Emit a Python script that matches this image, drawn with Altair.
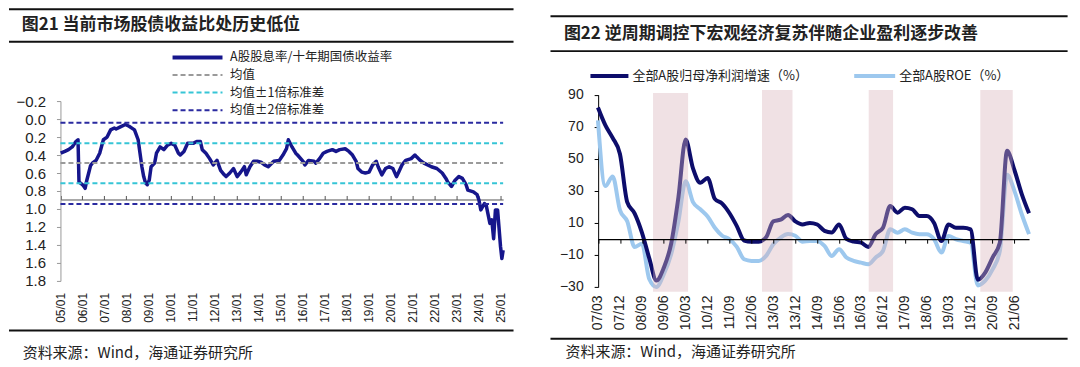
import altair as alt
import pandas as pd

CJK = "Noto Sans CJK SC"
NUM = "Liberation Sans"
TXT = "#222222"

# ---------------- Figure 21 data ----------------
fig21_title = "图21 当前市场股债收益比处历史低位"
fig21_series = "A股股息率/十年期国债收益率"
fig21_dates = [
    "2005-01-05", "2005-03-15", "2005-05-15", "2005-07-15", "2005-09-15", "2005-10-20", "2005-11-05", "2005-12-15",
    "2006-01-15", "2006-02-15", "2006-03-15", "2006-04-15", "2006-05-15", "2006-06-15", "2006-08-15", "2006-10-15", "2006-12-15",
    "2007-02-15", "2007-04-15", "2007-06-15", "2007-07-15", "2007-09-15", "2007-12-15",
    "2008-02-15", "2008-05-15", "2008-07-15", "2008-08-15", "2008-09-15", "2008-10-15", "2008-11-15", "2008-12-15",
    "2009-01-15", "2009-02-15", "2009-04-15", "2009-05-15", "2009-07-15", "2009-09-15", "2009-11-15",
    "2010-01-15", "2010-03-15", "2010-05-15", "2010-06-15", "2010-08-15", "2010-10-15",
    "2011-01-15", "2011-03-15", "2011-05-15", "2011-06-15", "2011-08-15", "2011-10-15", "2011-12-15",
    "2012-02-15", "2012-04-15", "2012-06-15", "2012-07-15", "2012-09-15", "2012-11-15",
    "2013-01-15", "2013-03-15", "2013-05-15", "2013-06-15", "2013-08-15", "2013-10-15", "2013-12-15",
    "2014-02-15", "2014-04-15", "2014-06-15", "2014-09-15", "2014-12-15",
    "2015-02-15", "2015-04-15", "2015-05-15", "2015-07-15", "2015-09-15", "2015-10-15",
    "2016-01-15", "2016-02-15", "2016-04-15", "2016-07-15", "2016-08-15", "2016-10-15", "2016-12-15",
    "2017-02-15", "2017-05-15", "2017-07-15", "2017-09-15", "2017-12-15",
    "2018-02-15", "2018-04-15", "2018-06-15", "2018-07-15", "2018-09-15", "2018-11-15",
    "2019-01-15", "2019-03-15", "2019-05-15", "2019-06-15", "2019-08-15", "2019-10-15", "2019-12-15",
    "2020-02-15", "2020-04-15", "2020-05-15", "2020-07-15", "2020-09-15", "2020-12-15",
    "2021-02-15", "2021-03-15", "2021-05-15", "2021-07-15", "2021-09-15", "2021-11-15",
    "2022-02-15", "2022-05-15", "2022-07-15", "2022-08-15", "2022-10-15", "2022-12-15",
    "2023-02-15", "2023-04-15", "2023-06-15", "2023-07-15", "2023-10-15", "2023-12-15",
    "2024-01-15", "2024-02-15", "2024-04-15", "2024-05-15", "2024-07-15", "2024-08-15", "2024-09-15", "2024-10-15", "2024-11-20",
    "2025-01-08", "2025-01-30", "2025-02-20",
]
fig21_ratio = [
    0.38, 0.36, 0.34, 0.31, 0.25, 0.23, 0.70, 0.72,
    0.74, 0.77, 0.68, 0.60, 0.52, 0.49, 0.46, 0.38, 0.23,
    0.20, 0.12, 0.10, 0.11, 0.09, 0.06,
    0.08, 0.12, 0.23, 0.38, 0.53, 0.64, 0.71, 0.73,
    0.68, 0.53, 0.49, 0.38, 0.31, 0.34, 0.29,
    0.27, 0.29, 0.38, 0.40, 0.36, 0.27,
    0.27, 0.25, 0.25, 0.34, 0.38, 0.44, 0.51,
    0.46, 0.57, 0.62, 0.64, 0.60, 0.55,
    0.64, 0.59, 0.53, 0.62, 0.53, 0.47, 0.47,
    0.48, 0.51, 0.53, 0.47, 0.46,
    0.40, 0.33, 0.23, 0.31, 0.38, 0.40,
    0.47, 0.51, 0.46, 0.47, 0.49, 0.44, 0.38,
    0.36, 0.34, 0.36, 0.34, 0.33,
    0.36, 0.40, 0.47, 0.55, 0.59, 0.60,
    0.59, 0.51, 0.47, 0.53, 0.62, 0.55, 0.53,
    0.55, 0.64, 0.60, 0.51, 0.46, 0.44,
    0.40, 0.42, 0.46, 0.49, 0.51, 0.53,
    0.55, 0.60, 0.66, 0.70, 0.75, 0.68,
    0.64, 0.66, 0.73, 0.79, 0.81, 0.84,
    0.90, 1.01, 0.94, 0.96, 1.16, 1.12, 1.33, 1.01, 1.01,
    1.42, 1.55, 1.46,
]
fig21_ref_kind = ["均值", "均值±1倍标准差", "均值±1倍标准差", "均值±2倍标准差", "均值±2倍标准差"]
fig21_ref_level = [0.49, 0.27, 0.715, 0.04, 0.945]
fig21_legend = [fig21_series, "均值", "均值±1倍标准差", "均值±2倍标准差"]
fig21_xticks = [f"{y}-01-01" for y in range(2005, 2026)]
fig21_yticks = [-0.2, 0.0, 0.2, 0.4, 0.6, 0.8, 1.0, 1.2, 1.4, 1.6, 1.8]
fig21_span = ["2005-01-01", "2025-02-20"]

# ---------------- Figure 22 data ----------------
fig22_title = "图22 逆周期调控下宏观经济复苏伴随企业盈利逐步改善"
fig22_names = ["全部A股归母净利润增速（%）", "全部A股ROE（%）"]
fig22_dates = [f"{y}-{m:02d}-15" for y in range(2007, 2022) for m in (3, 6, 9, 12)]
fig22_growth = [82, 71, 63, 53, 23, 16, 4, -12, -26, -18, -3, 26, 62, 44, 35, 38,
                25, 22, 16, 8, -1, -1.7, -1.7, 1, 11, 12, 15, 11, 9, 10, 9, 5,
                4, 9, 0, -1.7, -2.3, -5, 3, 7, 20.5, 16.4, 19.5, 18.5, 14.3, 14.3, 10, -1.3,
                9, 7, 7, 6, -25.5, -21, -11.6, -2.3, 55, 43, 28, 16]
fig22_roe = [74, 33, 39, 18, 11, -5, -3, -25, -30, -22, -9.5, 11, 36, 23, 18.5, 14,
             7, 2, -0.2, -5, -12.7, -13.7, -13.7, -10.6, -3.3, 0.8, 3, 2, -1.7, -1.3, -1.3, -4.4,
             -10.6, -6.4, -11.6, -13.7, -14.8, -15.8, -11.6, -7.5, 6, 3.9, 6, 3.9, 2.9, 2.9, -0.2, -8.5,
             1.8, -0.2, -1.3, -2.3, -29, -26, -19, -7.5, 40, 30, 15.4, 3]
fig22_band_start = ["2009-02-01", "2012-10-25", "2016-06-20", "2020-04-15"]
fig22_band_end = ["2010-04-15", "2013-11-10", "2017-04-20", "2021-05-25"]
fig22_band_low = [-33, -33, -33, -33]
fig22_band_high = [91, 93, 93, 93]
fig22_xticks = ["2007-03-15", "2007-12-15", "2008-09-15", "2009-06-15", "2010-03-15",
                "2010-12-15", "2011-09-15", "2012-06-15", "2013-03-15", "2013-12-15",
                "2014-09-15", "2015-06-15", "2016-03-15", "2016-12-15", "2017-09-15",
                "2018-06-15", "2019-03-15", "2019-12-15", "2020-09-15", "2021-06-15"]
fig22_yticks = [-30, -10, 10, 30, 50, 70, 90]
fig22_span = ["2007-03-15", "2021-12-15"]

source_text = "资料来源：Wind，海通证券研究所"

assert len(fig21_dates) == len(fig21_ratio)
assert len(fig22_dates) == len(fig22_growth) == len(fig22_roe)


def utc(s):
    y, m, d = map(int, s.split("-"))
    return alt.DateTime(year=y, month=m, date=d, utc=True)


one = pd.DataFrame({"k": [0]})


def txt(s, x, y, size, weight="normal", font=CJK, color=TXT):
    return alt.Chart(one).mark_text(
        text=s, align="left", baseline="middle", fontSize=size,
        fontWeight=weight, font=font, color=color
    ).encode(x=alt.value(x), y=alt.value(y))


def hline(x1, x2, y, color, width, dash=None):
    kw = dict(color=color, strokeWidth=width)
    if dash:
        kw["strokeDash"] = dash
    return alt.Chart(one).mark_rule(**kw).encode(
        x=alt.value(x1), x2=alt.value(x2), y=alt.value(y))


PW, PH1, PH2 = 532, 273, 279

# ---------------- left panel ----------------
NAVY21 = "#16168c"
CYAN21 = "#36c5d6"
GRAY21 = "#9a9a9a"
DASH2 = "#2a2aa0"

lx_scale = alt.Scale(type="utc", domain=[utc(fig21_span[0]), utc(fig21_span[1])], range=[51.5, 494.6])
ly_scale = alt.Scale(domain=[-0.2, 1.8], range=[93, 273], zero=False, nice=False)
ly_axis = alt.Axis(orient="left", offset=-51.5, values=fig21_yticks, format=".1f", tickSize=4,
                   tickColor="#999999", domainColor="#999999", labelPadding=11, labelFont=NUM,
                   labelFontSize=15, labelColor=TXT, grid=False, title=None)
ly = lambda f: alt.Y(f, type="quantitative", scale=ly_scale, axis=ly_axis)

df21 = pd.DataFrame({"d": fig21_dates, "v": fig21_ratio})
line21 = alt.Chart(df21).mark_line(color=NAVY21, strokeWidth=3.5, strokeJoin="round").encode(
    x=alt.X("d:T", scale=lx_scale, axis=alt.Axis(
        orient="bottom", values=[utc(s) for s in fig21_xticks], format="%y/%m",
        labelAngle=270, labelAlign="right", labelBaseline="middle", ticks=False, tickSize=0,
        domain=False, labelPadding=11.5, labelFont=NUM, labelFontSize=12, labelColor=TXT,
        grid=False, title=None, labelOverlap=False, labelFlush=False)),
    y=ly("v"),
)

df21ref = pd.DataFrame({"kind": fig21_ref_kind, "level": fig21_ref_level,
                        "s": fig21_span[0], "e": fig21_span[1]})
ref21 = alt.Chart(df21ref).mark_rule(strokeWidth=2, strokeDash=[5, 3]).encode(
    x=alt.X("s:T", scale=lx_scale, axis=alt.Axis(
        orient="top", offset=-191.5, values=[utc(s) for s in fig21_xticks], labels=False,
        tickSize=4, tickColor="#555555", domainColor="#555555", grid=False, title=None)),
    x2="e:T",
    y=ly("level"),
    color=alt.Color("kind:N", legend=None, scale=alt.Scale(
        domain=fig21_legend[1:], range=[GRAY21, CYAN21, DASH2])),
)

leg21 = []
leg_styles = [(NAVY21, 4, None), (GRAY21, 2, [5, 3]), (CYAN21, 2, [5, 3]), (DASH2, 2, [5, 3])]
for i, (name, (c, w, dsh)) in enumerate(zip(fig21_legend, leg_styles)):
    yy = 49.3 + 17.6 * i
    leg21.append(hline(163.7, 213.7, yy, c, w, dsh))
    leg21.append(txt(name, 221.3, yy, 12.5))

left = alt.layer(
    line21, ref21, *leg21,
    hline(0, 505, 1, "#111111", 2),
    txt(fig21_title, 12.7, 17, 17, weight="bold"),
    hline(0, 505, 33.7, "#111111", 2),
    hline(0, 505, 322.7, "#111111", 2),
    txt(source_text, 13.7, 345, 15),
).resolve_axis(x="independent").properties(width=PW, height=PH1)

# ---------------- right panel ----------------
NAVY22 = "#0d0d6b"
LIGHT22 = "#9dc8ee"
BAND = "#d9b4bb"

rx_scale = alt.Scale(type="utc", domain=[utc(fig22_span[0]), utc(fig22_span[1])], range=[57.5, 489])
ry_scale = alt.Scale(domain=[-30, 90], range=[279.1, 86.6], zero=False, nice=False)
ry_axis = alt.Axis(orient="left", offset=-57.7, values=fig22_yticks, tickSize=4, tickColor="black",
                   domainColor="black", labelPadding=11, labelFont=NUM, labelFontSize=14,
                   labelColor=TXT, grid=False, title=None)
ry = lambda f: alt.Y(f, type="quantitative", scale=ry_scale, axis=ry_axis)

df22 = pd.DataFrame({"d": fig22_dates, "g": fig22_growth, "r": fig22_roe})
roe_line = alt.Chart(df22).mark_line(color=LIGHT22, strokeWidth=4, interpolate="monotone").encode(
    x=alt.X("d:T", scale=rx_scale, axis=alt.Axis(
        orient="bottom", values=[utc(s) for s in fig22_xticks], format="%y/%m",
        labelAngle=270, labelAlign="right", labelBaseline="middle", ticks=False, tickSize=0,
        domain=False, labelPadding=8, labelFont=NUM, labelFontSize=14, labelColor=TXT,
        grid=False, title=None, labelOverlap=False, labelFlush=False)),
    y=ry("r"),
)
growth_line = alt.Chart(df22).mark_line(color=NAVY22, strokeWidth=4, interpolate="monotone").encode(
    x=alt.X("d:T", scale=rx_scale, axis=None),
    y=ry("g"),
)
dfband = pd.DataFrame({"s": fig22_band_start, "e": fig22_band_end,
                       "lo": fig22_band_low, "hi": fig22_band_high})
bands = alt.Chart(dfband).mark_rect(color=BAND, opacity=0.4).encode(
    x=alt.X("s:T", scale=rx_scale, axis=alt.Axis(
        orient="bottom", offset=-47.8, values=[utc(s) for s in fig22_xticks], labels=False,
        tickSize=4, tickColor="black", domainColor="black", domainWidth=1.3, zindex=1,
        grid=False, title=None)),
    x2="e:T",
    y=ry("lo"),
    y2="hi:Q",
)

right = alt.layer(
    roe_line, growth_line, bands,
    hline(50, 88, 68, NAVY22, 4), txt(fig22_names[0], 92, 68, 13),
    hline(314, 355, 68, LIGHT22, 4), txt(fig22_names[1], 359, 68, 13),
    hline(10, 527.6, 8, "#111111", 2),
    txt(fig22_title, 23.4, 25.5, 17, weight="bold"),
    hline(10, 527.6, 43, "#111111", 2),
    hline(10, 527.6, 331, "#111111", 2),
    txt(source_text, 25, 344, 15),
).resolve_axis(x="independent").properties(width=PW, height=PH2)

chart = alt.hconcat(left, right, spacing=0, bounds="flush").properties(
    padding=0, background="white"
).configure_view(stroke=None)

chart.save("out.html", embed_options={"renderer": "svg", "actions": False})
